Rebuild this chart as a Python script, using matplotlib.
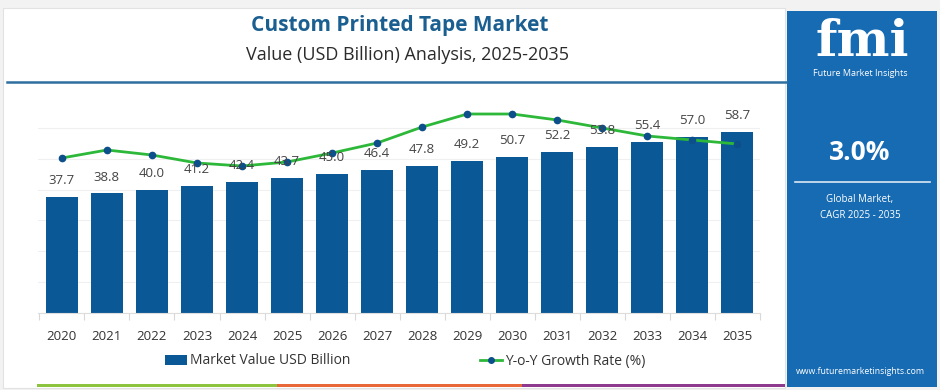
import matplotlib.pyplot as plt
from matplotlib.patches import Rectangle, Patch
from matplotlib.lines import Line2D

plt.rcParams['font.family'] = ['Open Sans', 'DejaVu Sans']

# data
years = ['2020', '2021', '2022', '2023', '2024', '2025', '2026', '2027',
         '2028', '2029', '2030', '2031', '2032', '2033', '2034', '2035']
market_value = [37.7, 38.8, 40.0, 41.2, 42.4, 43.7, 45.0, 46.4,
                47.8, 49.2, 50.7, 52.2, 53.8, 55.4, 57.0, 58.7]
yoy_growth = [2.88, 2.96, 2.91, 2.83, 2.80, 2.84, 2.93, 3.03,
              3.19, 3.32, 3.32, 3.26, 3.18, 3.10, 3.06, 3.02]
title = 'Custom Printed Tape Market'
subtitle = 'Value (USD Billion) Analysis, 2025-2035'
cagr = '3.0%'

W, H = 940, 390
bar_color = '#0b5896'
panel_color = '#176bb2'
line_color = '#2db83a'
dot_color = '#0d4f8b'

fig = plt.figure(figsize=(W / 100, H / 100), dpi=100, facecolor='#f2f2f2')


def px(x, y):
    # pixel (from top-left) -> figure fraction
    return x / W, 1 - y / H


# white card
fig.patches.append(Rectangle(px(3, 388), 782 / W, 380 / H, transform=fig.transFigure,
                             facecolor='white', edgecolor='#e2e2e2', lw=0.8, zorder=-2))
# title + separator
fig.text(*px(400, 25), title, ha='center', va='center', fontsize=15,
         fontweight='bold', color='#1b5f91')
fig.text(*px(407, 55), subtitle, ha='center', va='center', fontsize=13, color='#2b2b2b')
fig.add_artist(Line2D([7 / W, 786 / W], [1 - 82 / H] * 2, transform=fig.transFigure,
                      color='#2f6f9f', lw=1.8))

# bottom coloured strip
for x0, x1, c in [(37, 277, '#8cc43f'), (277, 522, '#e8683a'), (522, 785, '#8e3a8e')]:
    fig.patches.append(Rectangle(px(x0, 387), (x1 - x0) / W, 3 / H, transform=fig.transFigure,
                                 facecolor=c, edgecolor='none', zorder=1))

# right panel
fig.patches.append(Rectangle(px(787, 387), 150 / W, 376 / H, transform=fig.transFigure,
                             facecolor=panel_color, edgecolor='none', zorder=1))
fig.text(*px(862, 43), 'fmi', ha='center', va='center', fontsize=36, fontweight='bold',
         family='DejaVu Serif', color='white')
fig.text(*px(860, 73), 'Future Market Insights', ha='center', va='center', fontsize=6.5,
         color='white')
fig.text(*px(860, 153), cagr, ha='center', va='center', fontsize=19, fontweight='bold',
         color='white')
fig.add_artist(Line2D([795 / W, 930 / W], [1 - 182 / H] * 2, transform=fig.transFigure,
                      color='#dce9f5', lw=1.2))
fig.text(*px(860, 200), 'Global Market,', ha='center', va='center', fontsize=7, color='white')
fig.text(*px(860, 215), 'CAGR 2025 - 2035', ha='center', va='center', fontsize=7, color='white')
fig.text(*px(860, 372), 'www.futuremarketinsights.com', ha='center', va='center',
         fontsize=6.3, color='white')

# main chart
ax = fig.add_axes([38 / W, 1 - 313 / H, 722 / W, 216 / H])
ax.set_zorder(5)
ax.set_facecolor('none')
x = list(range(len(years)))
bars = ax.bar(x, market_value, width=0.71, color=bar_color, zorder=2)
ax.set_xlim(-0.53, 15.5)
ax.set_ylim(0, 70)
ax.set_yticks([0, 10, 20, 30, 40, 50, 60])
ax.yaxis.grid(True, color='#f0f0f0', lw=0.8, zorder=0)
ax.set_xticks(x)
ax.set_xticklabels(years, fontsize=9.5, color='#333333')
ax.tick_params(axis='x', length=0, pad=12)
ax.set_xticks([i + 0.5 for i in range(-1, len(years))], minor=True)
ax.tick_params(axis='x', which='minor', length=5, color='#d8d8d8', width=0.8)
for s in ['top', 'right', 'left']:
    ax.spines[s].set_visible(False)
ax.spines['bottom'].set_color('#dddddd')

ax2 = ax.twinx()
ax2.set_zorder(6)
ax2.set_ylim(1.33, 3.49)
ax2.axis('off')
ax.tick_params(axis='y', which='both', left=False, right=False,
               labelleft=False, labelright=False)
ax2.plot(x, yoy_growth, color=line_color, lw=2, marker='o', markersize=4.5,
         markerfacecolor=dot_color, markeredgecolor=dot_color, zorder=3)

for xi, v in zip(x, market_value):
    ax2.annotate(f'{v:.1f}', xy=(xi, 1.33 + v * (3.49 - 1.33) / 70), xytext=(0, 7),
                 textcoords='offset points', ha='center', va='bottom', fontsize=9.5,
                 color='#444444', zorder=4)

handles = [Patch(facecolor=bar_color, label='Market Value USD Billion'),
           Line2D([0], [0], color=line_color, lw=2, marker='o', markersize=4,
                  markerfacecolor=dot_color, markeredgecolor=dot_color,
                  label='Y-o-Y Growth Rate (%)')]
fig.legend(handles=handles, loc='center', bbox_to_anchor=px(405, 361), ncol=2,
           frameon=False, fontsize=10, columnspacing=9.3, handlelength=1.6,
           handletextpad=0.2, labelcolor='#333333')

fig.savefig('out.png', dpi=100, facecolor=fig.get_facecolor())
